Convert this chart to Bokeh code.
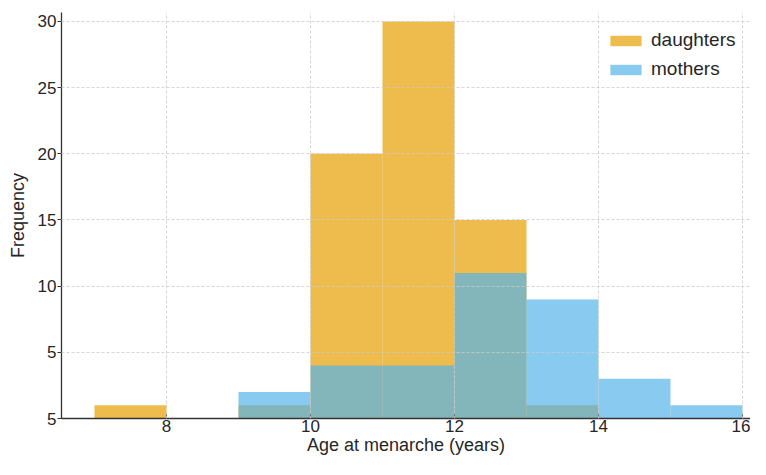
from bokeh.plotting import figure
from bokeh.models import Range1d, FixedTicker, Legend, LegendItem
from bokeh.embed import file_html
from bokeh.resources import INLINE

bin_left = [7, 8, 9, 10, 11, 12, 13, 14, 15]
bin_right = [8, 9, 10, 11, 12, 13, 14, 15, 16]
daughters = [1, 0, 1, 20, 30, 15, 1, 0, 0]
mothers = [0, 0, 2, 4, 4, 11, 9, 3, 1]
x_ticks = [8, 10, 12, 14, 16]
y_ticks = [0, 5, 10, 15, 20, 25, 30]
y_tick_labels = {0: "5", 5: "5", 10: "10", 15: "15", 20: "20", 25: "25", 30: "30"}
x_title = "Age at menarche (years)"
y_title = "Frequency"

FONT = "Liberation Sans"
TXT = "#262626"

p = figure(width=750, height=459, output_backend="svg", toolbar_location=None,
           x_range=Range1d(6.542, 16.1114), y_range=Range1d(0, 30.68),
           min_border_left=61, min_border_right=0, min_border_top=12, min_border_bottom=41)
p.outline_line_color = None

d = [(l, r, h) for l, r, h in zip(bin_left, bin_right, daughters) if h > 0]
m = [(l, r, h) for l, r, h in zip(bin_left, bin_right, mothers) if h > 0]

rd = p.quad(left=[a[0] for a in d], right=[a[1] for a in d], bottom=0, top=[a[2] for a in d],
            fill_color="#E69F00", fill_alpha=0.7, line_color=None)
rm = p.quad(left=[a[0] for a in m], right=[a[1] for a in m], bottom=0, top=[a[2] for a in m],
            fill_color="#56B4E9", fill_alpha=0.7, line_color=None)

p.xaxis.ticker = FixedTicker(ticks=x_ticks)
p.yaxis.ticker = FixedTicker(ticks=y_ticks)
p.yaxis.major_label_overrides = y_tick_labels

for ax in (p.xaxis, p.yaxis):
    ax.axis_line_color = "#333333"
    ax.axis_line_width = 1.3
    ax.major_tick_line_color = "#333333"
    ax.minor_tick_line_color = None
    ax.major_label_text_font = FONT
    ax.major_label_text_font_size = "17px"
    ax.major_label_text_color = TXT
    ax.axis_label_text_font = FONT
    ax.axis_label_text_font_size = "18px"
    ax.axis_label_text_font_style = "normal"
    ax.axis_label_text_color = TXT

p.xaxis.major_tick_in = 4
p.xaxis.major_tick_out = 0
p.xaxis.major_label_standoff = 1
p.yaxis.major_tick_in = 0
p.yaxis.major_tick_out = 4
p.yaxis.major_label_standoff = 1
p.xaxis.axis_label = x_title
p.yaxis.axis_label = y_title
p.xaxis.axis_label_standoff = 0
p.yaxis.axis_label_standoff = 7

p.grid.grid_line_color = "#cccccc"
p.grid.grid_line_dash = "3 2"
p.grid.grid_line_width = 0.8
p.grid.level = "guide"

legend = Legend(items=[LegendItem(label="daughters", renderers=[rd]),
                       LegendItem(label="mothers", renderers=[rm])],
                location=(545, 338))
legend.label_text_font = FONT
legend.label_text_font_size = "19px"
legend.label_text_color = TXT
legend.border_line_color = None
legend.background_fill_color = "white"
legend.background_fill_alpha = 1.0
legend.glyph_width = 39
legend.glyph_height = 13
legend.label_standoff = 6
legend.spacing = 7
legend.margin = 0
legend.padding = 8
p.add_layout(legend)

open("out.html", "w").write(file_html(p, INLINE))
